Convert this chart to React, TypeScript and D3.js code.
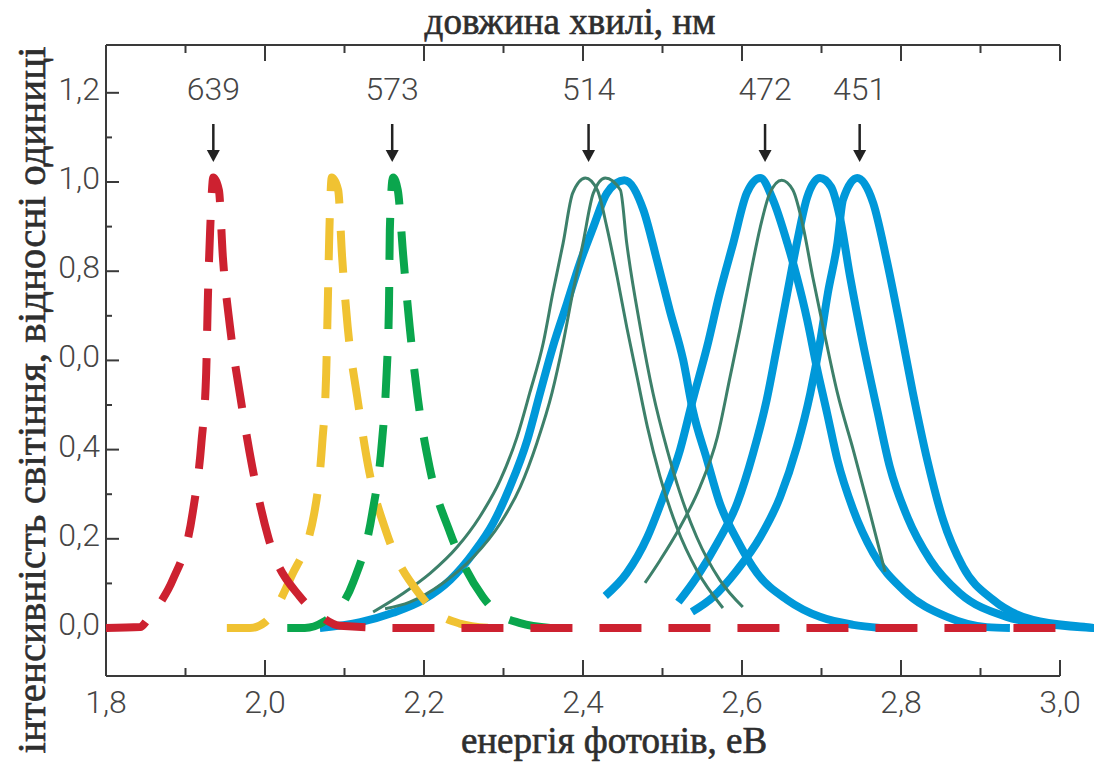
import * as d3 from "d3";

// energy axis (eV), bottom
const xMajorTicks = [1.8, 2.0, 2.2, 2.4, 2.6, 2.8, 3.0];
const xTickLabels = ["1,8", "2,0", "2,2", "2,4", "2,6", "2,8", "3,0"];
const xMinorTicks = [1.9, 2.1, 2.3, 2.5, 2.7, 2.9];

// relative intensity
const yMajorTicks = [0, 0.2, 0.4, 0.6, 0.8, 1.0, 1.2];
const yTickLabels = ["0,0", "0,2", "0,4", "0,0", "0,8", "1,0", "1,2"];
const yMinorTicks = [0.1, 0.3, 0.5, 0.7, 0.9, 1.1];

// arrows with wavelength (nm) over the peaks
const peakWavelengths = ["639", "573", "514", "472", "451"];
const peakEnergies = [1.935, 2.16, 2.407, 2.629, 2.748];

// dashed spectra: [energy, intensity]
const redSpectrum = [
  [1.8, 0], [1.843, 0.002], [1.852, 0.018], [1.868, 0.056], [1.884, 0.108],
  [1.909, 0.258], [1.92, 0.415], [1.926, 0.572], [1.928, 0.729], [1.931, 0.892],
  [1.935, 1.01], [1.942, 0.982], [1.947, 0.832], [1.956, 0.675], [1.969, 0.518],
  [1.984, 0.361], [2.004, 0.204], [2.044, 0.07], [2.065, 0.034], [2.094, 0.005],
  [2.17, 0], [3.006, 0],
];
const yellowSpectrum = [
  [1.952, 0], [1.981, 0], [2.0, 0.013], [2.033, 0.115], [2.062, 0.258],
  [2.072, 0.415], [2.077, 0.572], [2.079, 0.729], [2.081, 0.892], [2.084, 1.01],
  [2.092, 0.982], [2.097, 0.832], [2.104, 0.675], [2.116, 0.518], [2.13, 0.361],
  [2.153, 0.213], [2.197, 0.07], [2.216, 0.034], [2.245, 0.01], [2.283, 0],
];
const greenSpectrum = [
  [2.028, 0], [2.05, 0], [2.073, 0.013], [2.111, 0.103], [2.135, 0.258],
  [2.147, 0.415], [2.153, 0.572], [2.156, 0.729], [2.157, 0.892], [2.161, 1.01],
  [2.167, 0.982], [2.174, 0.832], [2.182, 0.675], [2.192, 0.518], [2.207, 0.361],
  [2.233, 0.213], [2.274, 0.07], [2.292, 0.034], [2.321, 0.011], [2.361, 0],
];

// thick blue spectra
const blue1 = [
  [2.069, 0], [2.12, 0.013], [2.161, 0.034], [2.199, 0.063], [2.233, 0.108],
  [2.262, 0.168], [2.287, 0.235], [2.308, 0.316], [2.33, 0.422], [2.346, 0.527],
  [2.362, 0.63], [2.38, 0.729], [2.396, 0.818], [2.413, 0.899], [2.43, 0.975],
  [2.452, 1.004], [2.476, 0.937], [2.493, 0.825], [2.509, 0.713], [2.526, 0.601],
  [2.538, 0.489], [2.556, 0.377], [2.572, 0.28], [2.594, 0.197], [2.619, 0.123],
  [2.657, 0.063], [2.698, 0.025], [2.74, 0.007], [2.774, 0],
];
const blue2 = [
  [2.428, 0.072], [2.455, 0.123], [2.481, 0.204], [2.501, 0.294], [2.522, 0.399],
  [2.538, 0.511], [2.556, 0.63], [2.572, 0.751], [2.589, 0.863], [2.606, 0.975],
  [2.623, 1.009], [2.639, 0.96], [2.657, 0.863], [2.669, 0.787], [2.682, 0.691],
  [2.694, 0.585], [2.707, 0.482], [2.72, 0.377], [2.74, 0.265], [2.765, 0.168],
  [2.803, 0.085], [2.858, 0.025], [2.908, 0.002], [2.937, 0],
];
const blue3 = [
  [2.52, 0.058], [2.543, 0.114], [2.569, 0.191], [2.594, 0.28], [2.614, 0.392],
  [2.631, 0.511], [2.644, 0.63], [2.657, 0.751], [2.669, 0.863], [2.682, 0.966],
  [2.698, 1.009], [2.712, 0.989], [2.723, 0.922], [2.736, 0.787], [2.752, 0.639],
  [2.77, 0.489], [2.786, 0.361], [2.808, 0.249], [2.837, 0.152], [2.874, 0.078],
  [2.933, 0.025], [2.991, 0.007], [3.043, 0],
];
const blue4 = [
  [2.537, 0.036], [2.564, 0.07], [2.594, 0.13], [2.623, 0.204], [2.648, 0.294],
  [2.669, 0.406], [2.686, 0.527], [2.698, 0.639], [2.708, 0.751], [2.72, 0.863],
  [2.727, 0.96], [2.745, 1.009], [2.765, 0.953], [2.782, 0.825], [2.799, 0.675],
  [2.815, 0.527], [2.833, 0.377], [2.853, 0.242], [2.878, 0.137], [2.916, 0.063],
  [2.966, 0.018], [3.034, 0.002], [3.043, 0],
];

// thin dark-green spectra
const thin1 = [
  [2.136, 0.036], [2.174, 0.078], [2.208, 0.123], [2.242, 0.182], [2.27, 0.249],
  [2.296, 0.332], [2.317, 0.428], [2.333, 0.527], [2.35, 0.639], [2.362, 0.751],
  [2.375, 0.863], [2.387, 0.975], [2.403, 1.009], [2.418, 0.982], [2.43, 0.899],
  [2.443, 0.787], [2.455, 0.675], [2.468, 0.563], [2.481, 0.451], [2.497, 0.339],
  [2.518, 0.226], [2.543, 0.13], [2.576, 0.045],
];
const thin2 = [
  [2.151, 0.043], [2.182, 0.058], [2.224, 0.101], [2.262, 0.159], [2.296, 0.235],
  [2.321, 0.316], [2.342, 0.415], [2.361, 0.527], [2.375, 0.639], [2.387, 0.751],
  [2.4, 0.863], [2.413, 0.975], [2.428, 1.009], [2.447, 0.982], [2.455, 0.863],
  [2.472, 0.675], [2.488, 0.527], [2.506, 0.399], [2.522, 0.303], [2.543, 0.204],
  [2.572, 0.108], [2.601, 0.047],
];
const thin3 = [
  [2.478, 0.101], [2.497, 0.152], [2.522, 0.226], [2.547, 0.316], [2.569, 0.428],
  [2.585, 0.563], [2.598, 0.675], [2.61, 0.787], [2.623, 0.899], [2.635, 0.975],
  [2.65, 1.004], [2.664, 0.982], [2.677, 0.899], [2.689, 0.787], [2.702, 0.675],
  [2.72, 0.527], [2.74, 0.399], [2.761, 0.258], [2.78, 0.126],
];

const axisColor = "#3a3a3a";
const labelColor = "#454545";
const tickFont = "Roboto, 'Open Sans', sans-serif";
const titleFont = "'Liberation Serif', 'DejaVu Serif', serif";

export default function App() {
  const width = 1094;
  const height = 764;
  const left = 106;
  const right = 1060;
  const top = 45;
  const bottom = 676;

  const x = d3.scaleLinear().domain([1.8, 3.0]).range([left, right]);
  const y = d3.scaleLinear().domain([-0.1076, 1.3072]).range([bottom, top]);

  const line = d3
    .line<number[]>()
    .x((d) => x(d[0]))
    .y((d) => y(d[1]))
    .curve(d3.curveMonotoneX);

  const blues = [blue1, blue2, blue3, blue4];
  const thins = [thin1, thin2, thin3];
  const dashed = [
    { data: yellowSpectrum, color: "#f0c232" },
    { data: greenSpectrum, color: "#0aa64d" },
    { data: redSpectrum, color: "#cd2130" },
  ];

  const titleStyle = {
    fontFamily: titleFont,
    fill: "#2e2e2e",
    stroke: "#2e2e2e",
    strokeWidth: 0.6,
  };

  return (
    <svg
      width={width}
      height={height}
      style={{ position: "absolute", left: 0, top: 0, background: "#fff" }}
    >
      {/* frame: left, top, bottom */}
      <line x1={left} x2={left} y1={top} y2={bottom} stroke={axisColor} strokeWidth={2} />
      <line x1={left} x2={right} y1={top} y2={top} stroke={axisColor} strokeWidth={2} />
      <line x1={left} x2={right} y1={bottom} y2={bottom} stroke={axisColor} strokeWidth={2} />

      {xMajorTicks.map((t, i) => (
        <g key={`xm-${t}`}>
          <line x1={x(t)} x2={x(t)} y1={bottom} y2={bottom - 16} stroke={axisColor} strokeWidth={2} />
          <line x1={x(t)} x2={x(t)} y1={top} y2={top + 16} stroke={axisColor} strokeWidth={2} />
          <text
            x={x(t)}
            y={bottom + 37}
            textAnchor="middle"
            fontFamily={tickFont}
            fontWeight={300}
            fontSize={32}
            fill={labelColor}
          >
            {xTickLabels[i]}
          </text>
        </g>
      ))}
      {xMinorTicks.map((t) => (
        <g key={`xn-${t}`}>
          <line x1={x(t)} x2={x(t)} y1={bottom} y2={bottom - 8} stroke={axisColor} strokeWidth={2} />
          <line x1={x(t)} x2={x(t)} y1={top} y2={top + 8} stroke={axisColor} strokeWidth={2} />
        </g>
      ))}

      {yMajorTicks.map((t, i) => (
        <g key={`ym-${t}`}>
          <line x1={left} x2={left + 13} y1={y(t)} y2={y(t)} stroke={axisColor} strokeWidth={2} />
          <text
            x={left - 6}
            y={y(t) + 7}
            textAnchor="end"
            fontFamily={tickFont}
            fontWeight={300}
            fontSize={32}
            fill={labelColor}
          >
            {yTickLabels[i]}
          </text>
        </g>
      ))}
      {yMinorTicks.map((t) => (
        <line key={`yn-${t}`} x1={left} x2={left + 6} y1={y(t)} y2={y(t)} stroke={axisColor} strokeWidth={2} />
      ))}

      {/* spectra */}
      {blues.map((d, i) => (
        <path key={`b-${i}`} d={line(d) ?? ""} fill="none" stroke="#0098d9" strokeWidth={8} strokeLinejoin="round" />
      ))}
      {thins.map((d, i) => (
        <path key={`t-${i}`} d={line(d) ?? ""} fill="none" stroke="#3d806a" strokeWidth={3} strokeLinejoin="round" />
      ))}
      {dashed.map((s, i) => (
        <path
          key={`d-${i}`}
          d={line(s.data) ?? ""}
          fill="none"
          stroke={s.color}
          strokeWidth={8}
          strokeDasharray="42 27"
          strokeLinejoin="round"
        />
      ))}

      {/* wavelength markers */}
      {peakEnergies.map((e, i) => (
        <g key={`p-${i}`} transform={`translate(${x(e)},0)`}>
          <text
            y={100}
            textAnchor="middle"
            fontFamily={tickFont}
            fontWeight={300}
            fontSize={32}
            fill={labelColor}
          >
            {peakWavelengths[i]}
          </text>
          <line y1={124} y2={152} stroke="#222" strokeWidth={2.5} />
          <path d="M-6.5,150 L6.5,150 L0,162 Z" fill="#222" />
        </g>
      ))}

      {/* axis titles */}
      <text x={570} y={34} textAnchor="middle" fontSize={37} style={titleStyle}>
        довжина хвилі, нм
      </text>
      <text x={614} y={753} textAnchor="middle" fontSize={37} style={titleStyle}>
        енергія фотонів, еВ
      </text>
      <text
        transform={`translate(45,400) rotate(-90)`}
        textAnchor="middle"
        fontSize={41}
        style={titleStyle}
      >
        інтенсивність світіння, відносні одиниці
      </text>
    </svg>
  );
}
